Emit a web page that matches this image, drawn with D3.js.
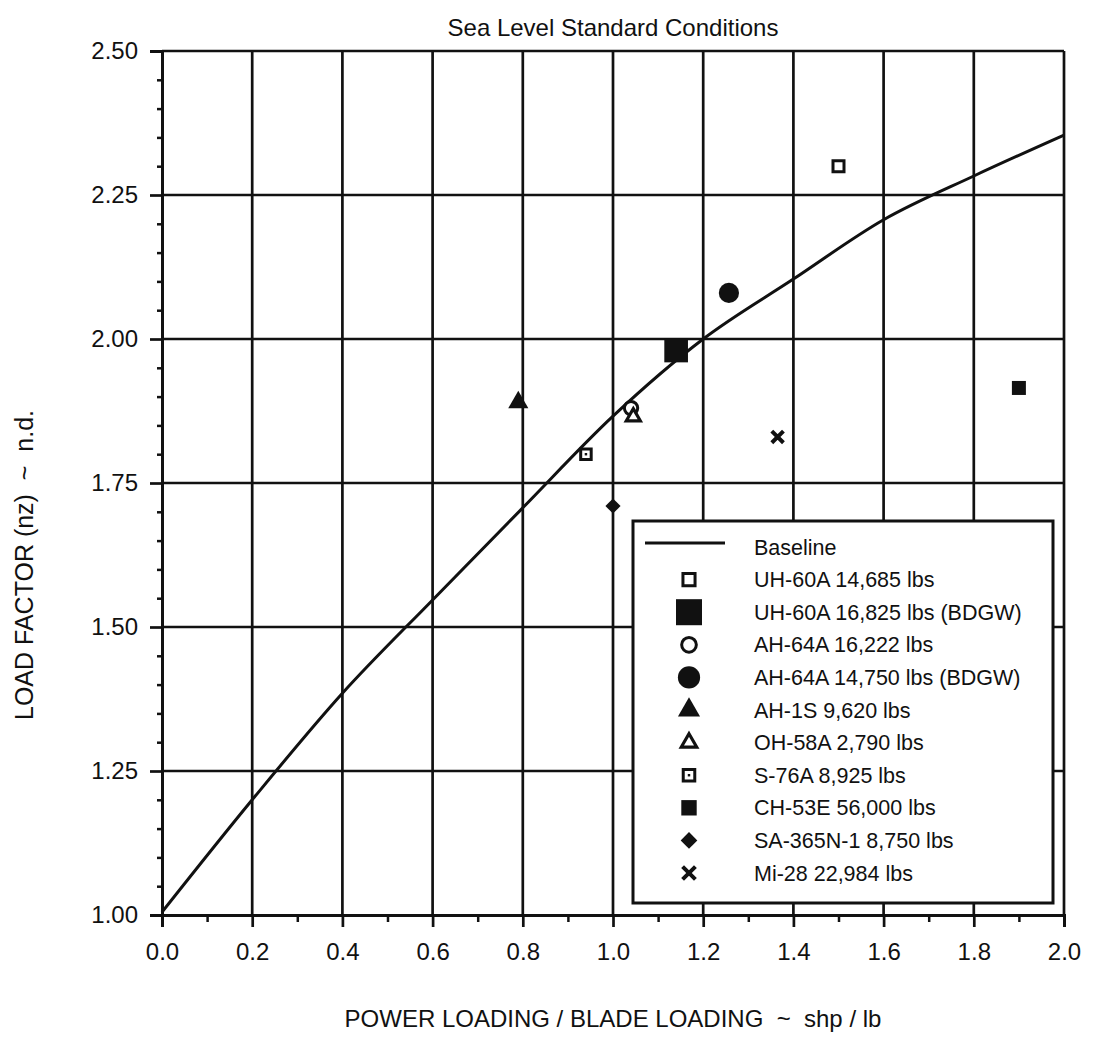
<!DOCTYPE html>
<html>
<head>
<meta charset="utf-8">
<script src="https://cdn.jsdelivr.net/npm/d3@7"></script>
<style>
  body { margin: 0; background: #fff; }
  svg text { font-family: "Liberation Sans", Arial, Helvetica, sans-serif; fill: #111; }
</style>
</head>
<body>
<svg id="chart" width="1094" height="1043"></svg>
<script>
// baseline curve
const baselineX = [0.0, 0.2, 0.4, 0.6, 0.8, 1.0, 1.2, 1.4, 1.6, 1.8, 2.0];
const baselineY = [1.005, 1.20, 1.385, 1.547, 1.707, 1.866, 2.00, 2.104, 2.207, 2.283, 2.354];

// aircraft points (legend order)
const aircraftNames = [
  "UH-60A 14,685 lbs",
  "UH-60A 16,825 lbs (BDGW)",
  "AH-64A 16,222 lbs",
  "AH-64A 14,750 lbs (BDGW)",
  "AH-1S 9,620 lbs",
  "OH-58A 2,790 lbs",
  "S-76A 8,925 lbs",
  "CH-53E 56,000 lbs",
  "SA-365N-1 8,750 lbs",
  "Mi-28 22,984 lbs"
];
const aircraftX = [1.50, 1.14, 1.04, 1.257, 0.79, 1.045, 0.94, 1.90, 1.00, 1.365];
const aircraftY = [2.30, 1.98, 1.88, 2.08, 1.89, 1.865, 1.80, 1.915, 1.71, 1.83];
const aircraftMarker = ["openSquare", "bigSquare", "openCircle", "filledCircle", "filledTriangle",
                        "openTriangle", "dotSquare", "smallSquare", "diamond", "cross"];

const xTicks = [0.0, 0.2, 0.4, 0.6, 0.8, 1.0, 1.2, 1.4, 1.6, 1.8, 2.0];
const xMinor = [0.1, 0.3, 0.5, 0.7, 0.9, 1.1, 1.3, 1.5, 1.7, 1.9];
const yTicks = [1.00, 1.25, 1.50, 1.75, 2.00, 2.25, 2.50];

const svg = d3.select("#chart");
const plotLeft = 162, plotRight = 1064, plotTop = 51, plotBottom = 915;

const x = d3.scaleLinear().domain([0, 2]).range([plotLeft, plotRight]);
const y = d3.scaleLinear().domain([1, 2.5]).range([plotBottom, plotTop]);

// title
svg.append("text")
  .attr("x", (plotLeft + plotRight) / 2)
  .attr("y", 36)
  .attr("text-anchor", "middle")
  .style("font-size", "24px")
  .text("Sea Level Standard Conditions");

// grid
const grid = svg.append("g").attr("stroke", "#111").attr("stroke-width", 2.7);
grid.selectAll(".vg")
  .data(xTicks.slice(1))
  .enter().append("line")
  .attr("x1", d => x(d)).attr("x2", d => x(d))
  .attr("y1", plotTop).attr("y2", plotBottom);
grid.selectAll(".hg")
  .data(yTicks.slice(1))
  .enter().append("line")
  .attr("x1", plotLeft).attr("x2", plotRight)
  .attr("y1", d => y(d)).attr("y2", d => y(d));

// y axis: minor ticks then major
const yMinor = d3.range(1.05, 2.5, 0.05).filter(v => Math.abs((v * 4) - Math.round(v * 4)) > 0.01);
svg.append("g")
  .attr("transform", `translate(${plotLeft},0)`)
  .call(d3.axisLeft(y).tickValues(yMinor).tickSize(5).tickFormat(""))
  .call(g => g.select(".domain").remove())
  .selectAll("line").attr("stroke", "#111").attr("stroke-width", 2.5);

const yAxis = svg.append("g")
  .attr("transform", `translate(${plotLeft},0)`)
  .call(d3.axisLeft(y).tickValues(yTicks).tickSize(12).tickPadding(12).tickFormat(d3.format(".2f")));
yAxis.select(".domain").attr("stroke", "#111").attr("stroke-width", 3);
yAxis.selectAll("line").attr("stroke", "#111").attr("stroke-width", 2.7);
yAxis.selectAll("text").style("font-size", "24px").attr("fill", "#111");

// x axis
svg.append("g")
  .attr("transform", `translate(0,${plotBottom})`)
  .call(d3.axisBottom(x).tickValues(xMinor).tickSize(7).tickFormat(""))
  .call(g => g.select(".domain").remove())
  .selectAll("line").attr("stroke", "#111").attr("stroke-width", 2.5);

const xAxis = svg.append("g")
  .attr("transform", `translate(0,${plotBottom})`)
  .call(d3.axisBottom(x).tickValues(xTicks).tickSize(12).tickPadding(16).tickFormat(d3.format(".1f")));
xAxis.select(".domain").attr("stroke", "#111").attr("stroke-width", 3);
xAxis.selectAll("line").attr("stroke", "#111").attr("stroke-width", 2.7);
xAxis.selectAll("text").style("font-size", "24px").attr("fill", "#111");

// axis titles
svg.append("text")
  .attr("x", (plotLeft + plotRight) / 2)
  .attr("y", 1027)
  .attr("text-anchor", "middle")
  .style("font-size", "24px")
  .style("white-space", "pre")
  .text("POWER LOADING / BLADE LOADING  ~  shp / lb");

svg.append("text")
  .attr("transform", "translate(33,565) rotate(-90)")
  .attr("text-anchor", "middle")
  .style("font-size", "25px")
  .style("white-space", "pre")
  .text("LOAD FACTOR (nz)  ~  n.d.");

// baseline curve
const baseline = baselineX.map((v, i) => [v, baselineY[i]]);
svg.append("path")
  .datum(baseline)
  .attr("fill", "none")
  .attr("stroke", "#111")
  .attr("stroke-width", 3)
  .attr("d", d3.line().x(d => x(d[0])).y(d => y(d[1])).curve(d3.curveMonotoneX));

// marker drawing; k scales the marker (legend draws a little larger)
function drawMarker(g, kind, k) {
  const sym = d3.symbol();
  const s = v => v * k * k;
  if (kind === "openSquare") {
    g.append("path").attr("d", sym.type(d3.symbolSquare).size(s(121))())
      .attr("fill", "#fff").attr("stroke", "#111").attr("stroke-width", 3);
  } else if (kind === "bigSquare") {
    g.append("path").attr("d", sym.type(d3.symbolSquare).size(s(560))()).attr("fill", "#111");
  } else if (kind === "openCircle") {
    g.append("path").attr("d", sym.type(d3.symbolCircle).size(s(140))())
      .attr("fill", "#fff").attr("stroke", "#111").attr("stroke-width", 3);
  } else if (kind === "filledCircle") {
    g.append("path").attr("d", sym.type(d3.symbolCircle).size(s(320))()).attr("fill", "#111");
  } else if (kind === "filledTriangle") {
    g.append("path").attr("d", sym.type(d3.symbolTriangle).size(s(175))()).attr("fill", "#111");
  } else if (kind === "openTriangle") {
    g.append("path").attr("d", sym.type(d3.symbolTriangle).size(s(85))())
      .attr("fill", "#fff").attr("stroke", "#111").attr("stroke-width", 3.2);
  } else if (kind === "dotSquare") {
    g.append("path").attr("d", sym.type(d3.symbolSquare).size(s(110))())
      .attr("fill", "#fff").attr("stroke", "#111").attr("stroke-width", 3);
    g.append("path").attr("d", sym.type(d3.symbolSquare).size(6)()).attr("fill", "#111");
  } else if (kind === "smallSquare") {
    g.append("path").attr("d", sym.type(d3.symbolSquare).size(s(196))()).attr("fill", "#111");
  } else if (kind === "diamond") {
    g.append("path").attr("d", sym.type(d3.symbolSquare).size(s(115))())
      .attr("transform", "rotate(45)").attr("fill", "#111");
  } else if (kind === "cross") {
    g.append("path").attr("d", sym.type(d3.symbolX).size(s(90))())
      .attr("fill", "none").attr("stroke", "#111").attr("stroke-width", 4);
  }
}

// points
aircraftNames.forEach((name, i) => {
  const g = svg.append("g")
    .attr("class", "point")
    .attr("transform", `translate(${x(aircraftX[i])},${y(aircraftY[i])})`);
  drawMarker(g, aircraftMarker[i], 1);
});

// legend
const legend = svg.append("g").attr("transform", "translate(633,521)");
legend.append("rect")
  .attr("width", 420).attr("height", 382)
  .attr("fill", "#fff").attr("stroke", "#111").attr("stroke-width", 3);

const rowY = i => 26 + i * 32.6;
legend.append("line")
  .attr("x1", 12).attr("x2", 92)
  .attr("y1", rowY(0) - 4).attr("y2", rowY(0) - 4)
  .attr("stroke", "#111").attr("stroke-width", 3);
legend.append("text")
  .attr("x", 121).attr("y", rowY(0)).attr("dy", "0.35em")
  .style("font-size", "21.5px")
  .text("Baseline");

aircraftNames.forEach((name, i) => {
  const row = legend.append("g").attr("transform", `translate(0,${rowY(i + 1)})`);
  drawMarker(row.append("g").attr("transform", "translate(56,0)"), aircraftMarker[i], 1.1);
  row.append("text")
    .attr("x", 121).attr("dy", "0.35em")
    .style("font-size", "21.5px")
    .text(name);
});
</script>
</body>
</html>
